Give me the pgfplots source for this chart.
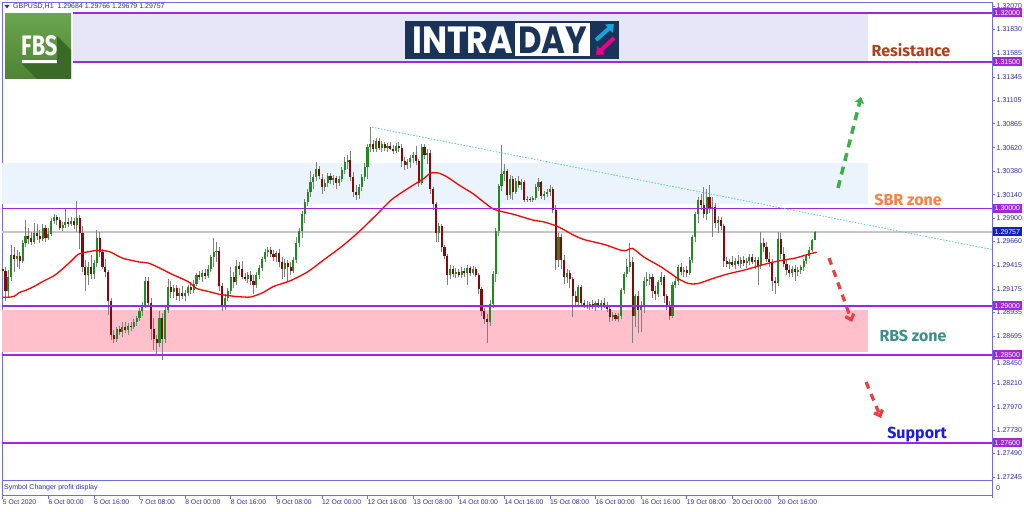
\documentclass[border=0pt]{standalone}
\usepackage{pgfplots}
\pgfplotsset{compat=1.18}
\usepackage{pgfplotstable}
\usepackage{fontspec}
\setmainfont{Liberation Sans}
\newfontfamily\zonefont{Fira Sans}
\newfontfamily\bannerfont{Poppins}
\usetikzlibrary{arrows.meta}

\definecolor{framecol}{HTML}{6E6EDC}
\definecolor{labcol}{HTML}{2C2CA8}
\definecolor{lvl}{HTML}{A028DC}
\definecolor{bidcol}{HTML}{1420BE}
\definecolor{bull}{HTML}{1E8C1E}
\definecolor{bear}{HTML}{820A0A}
\definecolor{wick}{HTML}{808080}
\definecolor{lavzone}{HTML}{E6E6F8}
\definecolor{sbrzone}{HTML}{EBF4FD}
\definecolor{rbszone}{HTML}{FFC0CB}
\definecolor{trend}{HTML}{5CC6C6}
\definecolor{resist}{HTML}{B0401C}
\definecolor{sbrtxt}{HTML}{FF7F3F}
\definecolor{rbstxt}{HTML}{3A8F8A}
\definecolor{suptxt}{HTML}{1A1AEE}
\definecolor{arrgreen}{HTML}{3FAE49}
\definecolor{arrred}{HTML}{F03C3C}
\definecolor{fbsgreen}{HTML}{5B9B3C}
\definecolor{fbsdark}{HTML}{3A6B26}
\definecolor{navy}{HTML}{1A3459}

% GBPUSD H1 candles, i = bar number from 5 Oct 08:00
\pgfplotstableread{
i o h l c
0 1.2938 1.2945 1.2932 1.2936
1 1.2936 1.2940 1.2905 1.2915
2 1.2915 1.2937 1.2908 1.2930
3 1.2930 1.2962 1.2926 1.2952
4 1.2952 1.2960 1.2935 1.2948
5 1.2948 1.2957 1.2940 1.2951
6 1.2951 1.2955 1.2938 1.2946
7 1.2946 1.2968 1.2944 1.2964
8 1.2964 1.2988 1.2960 1.2972
9 1.2972 1.2980 1.2963 1.2969
10 1.2970 1.2976 1.2962 1.2966
11 1.2966 1.2985 1.2963 1.2975
12 1.2975 1.2984 1.2968 1.2972
13 1.2972 1.2978 1.2964 1.2969
14 1.2969 1.2984 1.2967 1.2980
15 1.2980 1.2983 1.2966 1.2970
16 1.2970 1.2980 1.2968 1.2974
17 1.2974 1.2990 1.2972 1.2987
18 1.2987 1.2994 1.2984 1.2991
19 1.2991 1.2993 1.2983 1.2988
20 1.2988 1.2991 1.2978 1.2980
21 1.2980 1.2986 1.2977 1.2983
22 1.2983 1.2999 1.2980 1.2986
23 1.2986 1.2990 1.2981 1.2984
24 1.2984 1.2991 1.2982 1.2987
25 1.2987 1.2990 1.2979 1.2983
26 1.2983 1.3007 1.2976 1.2990
27 1.2990 1.2993 1.2958 1.2975
28 1.2975 1.2982 1.2935 1.2940
29 1.2940 1.2947 1.2915 1.2932
30 1.2932 1.2945 1.2922 1.2940
31 1.2940 1.2952 1.2928 1.2933
32 1.2933 1.2947 1.2928 1.2944
33 1.2944 1.2978 1.2940 1.2970
34 1.2970 1.2976 1.2950 1.2955
35 1.2955 1.2958 1.2938 1.2940
36 1.2940 1.2948 1.2930 1.2935
37 1.2935 1.2937 1.2891 1.2905
38 1.2905 1.2908 1.2865 1.2870
39 1.2870 1.2875 1.2862 1.2866
40 1.2866 1.2878 1.2863 1.2876
41 1.2876 1.2880 1.2870 1.2873
42 1.2873 1.2884 1.2868 1.2878
43 1.2878 1.2884 1.2872 1.2875
44 1.2875 1.2883 1.2870 1.2880
45 1.2880 1.2884 1.2874 1.2878
46 1.2878 1.2887 1.2876 1.2884
47 1.2884 1.2890 1.2880 1.2888
48 1.2888 1.2898 1.2885 1.2895
49 1.2895 1.2904 1.2890 1.2901
50 1.2901 1.2930 1.2898 1.2926
51 1.2926 1.2930 1.2900 1.2903
52 1.2903 1.2908 1.2865 1.2876
53 1.2876 1.2888 1.2855 1.2866
54 1.2866 1.2870 1.2850 1.2862
55 1.2862 1.2895 1.2858 1.2888
56 1.2888 1.2893 1.2845 1.2866
57 1.2866 1.2900 1.2862 1.2896
58 1.2896 1.2928 1.2893 1.2919
59 1.2919 1.2926 1.2908 1.2914
60 1.2914 1.2922 1.2908 1.2918
61 1.2918 1.2921 1.2906 1.2910
62 1.2910 1.2918 1.2905 1.2913
63 1.2913 1.2920 1.2907 1.2910
64 1.2910 1.2916 1.2905 1.2913
65 1.2913 1.2922 1.2910 1.2919
66 1.2919 1.2925 1.2912 1.2916
67 1.2916 1.2927 1.2913 1.2923
68 1.2923 1.2934 1.2920 1.2932
69 1.2932 1.2936 1.2927 1.2930
70 1.2930 1.2937 1.2925 1.2934
71 1.2934 1.2938 1.2928 1.2931
72 1.2931 1.2942 1.2929 1.2938
73 1.2938 1.2952 1.2935 1.2950
74 1.2950 1.2970 1.2940 1.2955
75 1.2955 1.2965 1.2945 1.2956
76 1.2956 1.2960 1.2915 1.2920
77 1.2920 1.2924 1.2895 1.2899
78 1.2899 1.2912 1.2896 1.2908
79 1.2908 1.2918 1.2905 1.2915
80 1.2915 1.2940 1.2912 1.2930
81 1.2930 1.2935 1.2918 1.2925
82 1.2925 1.2947 1.2922 1.2941
83 1.2941 1.2945 1.2932 1.2938
84 1.2938 1.2946 1.2928 1.2930
85 1.2930 1.2934 1.2926 1.2928
86 1.2928 1.2935 1.2924 1.2932
87 1.2932 1.2936 1.2922 1.2926
88 1.2926 1.2932 1.2912 1.2922
89 1.2922 1.2935 1.2918 1.2932
90 1.2932 1.2942 1.2928 1.2939
91 1.2939 1.2950 1.2936 1.2948
92 1.2948 1.2958 1.2945 1.2955
93 1.2955 1.2960 1.2950 1.2957
94 1.2957 1.2960 1.2950 1.2953
95 1.2953 1.2957 1.2946 1.2950
96 1.2950 1.2956 1.2945 1.2954
97 1.2954 1.2958 1.2940 1.2945
98 1.2945 1.2950 1.2928 1.2938
99 1.2938 1.2948 1.2930 1.2944
100 1.2944 1.2947 1.2925 1.2940
101 1.2940 1.2945 1.2932 1.2936
102 1.2936 1.2950 1.2934 1.2947
103 1.2947 1.2971 1.2944 1.2964
104 1.2964 1.2980 1.2960 1.2977
105 1.2977 1.2997 1.2970 1.2994
106 1.2994 1.3010 1.2985 1.3006
107 1.3006 1.3020 1.3002 1.3017
108 1.3017 1.3038 1.3012 1.3027
109 1.3027 1.3035 1.3020 1.3032
110 1.3032 1.3047 1.3028 1.3040
111 1.3040 1.3043 1.3030 1.3033
112 1.3030 1.3035 1.3015 1.3022
113 1.3022 1.3030 1.3018 1.3026
114 1.3026 1.3036 1.3022 1.3033
115 1.3033 1.3036 1.3025 1.3029
116 1.3029 1.3034 1.3024 1.3031
117 1.3031 1.3033 1.3020 1.3026
118 1.3026 1.3033 1.3023 1.3030
119 1.3030 1.3042 1.3027 1.3039
120 1.3039 1.3052 1.3035 1.3047
121 1.3047 1.3055 1.3040 1.3049
122 1.3049 1.3059 1.3028 1.3032
123 1.3032 1.3037 1.3012 1.3017
124 1.3017 1.3024 1.3008 1.3014
125 1.3014 1.3025 1.3010 1.3022
126 1.3022 1.3035 1.3018 1.3032
127 1.3032 1.3046 1.3028 1.3042
128 1.3042 1.3066 1.3030 1.3063
129 1.3063 1.3083 1.3058 1.3066
130 1.3066 1.3070 1.3058 1.3061
131 1.3061 1.3072 1.3058 1.3069
132 1.3069 1.3072 1.3060 1.3062
133 1.3062 1.3069 1.3058 1.3066
134 1.3066 1.3068 1.3059 1.3062
135 1.3062 1.3067 1.3058 1.3064
136 1.3064 1.3068 1.3060 1.3061
137 1.3061 1.3065 1.3056 1.3059
138 1.3059 1.3067 1.3057 1.3064
139 1.3064 1.3068 1.3058 1.3062
140 1.3062 1.3066 1.3042 1.3048
141 1.3048 1.3052 1.3039 1.3044
142 1.3044 1.3050 1.3040 1.3047
143 1.3047 1.3055 1.3041 1.3051
144 1.3051 1.3058 1.3046 1.3055
145 1.3055 1.3064 1.3044 1.3048
146 1.3048 1.3050 1.3022 1.3026
147 1.3026 1.3066 1.3024 1.3063
148 1.3063 1.3066 1.3050 1.3055
149 1.3055 1.3061 1.3045 1.3057
150 1.3057 1.3060 1.3015 1.3020
151 1.3020 1.3022 1.2998 1.3004
152 1.3004 1.3006 1.2966 1.2975
153 1.2975 1.2985 1.2966 1.2982
154 1.2982 1.2984 1.2955 1.2960
155 1.2960 1.2962 1.2948 1.2951
156 1.2951 1.2953 1.2922 1.2932
157 1.2932 1.2942 1.2928 1.2938
158 1.2938 1.2941 1.2930 1.2933
159 1.2933 1.2939 1.2929 1.2935
160 1.2935 1.2938 1.2930 1.2932
161 1.2932 1.2940 1.2929 1.2936
162 1.2936 1.2939 1.2930 1.2934
163 1.2934 1.2942 1.2922 1.2939
164 1.2939 1.2941 1.2931 1.2934
165 1.2934 1.2941 1.2932 1.2938
166 1.2938 1.2940 1.2930 1.2932
167 1.2932 1.2934 1.2912 1.2917
168 1.2917 1.2919 1.2890 1.2895
169 1.2895 1.2898 1.2882 1.2887
170 1.2887 1.2892 1.2862 1.2884
171 1.2884 1.2906 1.2880 1.2902
172 1.2902 1.2936 1.2898 1.2933
173 1.2933 1.2980 1.2925 1.2977
174 1.2977 1.3025 1.2972 1.3023
175 1.3023 1.3065 1.3018 1.3035
176 1.3035 1.3045 1.3028 1.3038
177 1.3038 1.3040 1.3008 1.3014
178 1.3014 1.3034 1.3010 1.3030
179 1.3030 1.3033 1.3008 1.3017
180 1.3017 1.3031 1.3015 1.3028
181 1.3028 1.3033 1.3021 1.3024
182 1.3024 1.3030 1.3019 1.3027
183 1.3027 1.3029 1.3006 1.3009
184 1.3009 1.3013 1.3006 1.3010
185 1.3010 1.3012 1.3006 1.3008
186 1.3008 1.3013 1.3006 1.3011
187 1.3011 1.3025 1.3008 1.3022
188 1.3022 1.3031 1.3018 1.3027
189 1.3027 1.3028 1.3010 1.3013
190 1.3013 1.3018 1.3009 1.3015
191 1.3015 1.3020 1.3012 1.3017
192 1.3017 1.3024 1.3013 1.3020
193 1.3020 1.3022 1.2995 1.2998
194 1.2998 1.3003 1.2937 1.2947
195 1.2947 1.2975 1.2940 1.2971
196 1.2971 1.2974 1.2938 1.2947
197 1.2947 1.2952 1.2923 1.2930
198 1.2930 1.2938 1.2924 1.2934
199 1.2934 1.2937 1.2918 1.2928
200 1.2928 1.2930 1.2889 1.2910
201 1.2910 1.2915 1.2900 1.2904
202 1.2904 1.2922 1.2900 1.2919
203 1.2919 1.2921 1.2900 1.2903
204 1.2903 1.2906 1.2898 1.2901
205 1.2901 1.2905 1.2897 1.2899
206 1.2899 1.2904 1.2896 1.2902
207 1.2902 1.2906 1.2897 1.2899
208 1.2899 1.2905 1.2895 1.2903
209 1.2903 1.2907 1.2898 1.2900
210 1.2900 1.2906 1.2896 1.2903
211 1.2903 1.2908 1.2898 1.2901
212 1.2901 1.2904 1.2894 1.2897
213 1.2897 1.2899 1.2884 1.2889
214 1.2889 1.2894 1.2885 1.2891
215 1.2891 1.2893 1.2885 1.2887
216 1.2887 1.2893 1.2884 1.2890
217 1.2890 1.2918 1.2887 1.2916
218 1.2916 1.2935 1.2912 1.2933
219 1.2933 1.2948 1.2930 1.2940
220 1.2940 1.2964 1.2935 1.2945
221 1.2945 1.2950 1.2862 1.2890
222 1.2890 1.2912 1.2878 1.2910
223 1.2910 1.2915 1.2872 1.2896
224 1.2896 1.2905 1.2873 1.2900
225 1.2900 1.2930 1.2893 1.2926
226 1.2926 1.2935 1.2920 1.2928
227 1.2928 1.2933 1.2922 1.2930
228 1.2930 1.2933 1.2908 1.2915
229 1.2915 1.2920 1.2906 1.2912
230 1.2912 1.2927 1.2909 1.2925
231 1.2925 1.2935 1.2922 1.2930
232 1.2930 1.2932 1.2903 1.2910
233 1.2910 1.2912 1.2896 1.2900
234 1.2900 1.2905 1.2886 1.2890
235 1.2890 1.2925 1.2888 1.2922
236 1.2922 1.2930 1.2918 1.2926
237 1.2926 1.2942 1.2922 1.2940
238 1.2940 1.2944 1.2932 1.2935
239 1.2935 1.2940 1.2930 1.2937
240 1.2937 1.2941 1.2930 1.2934
241 1.2934 1.2950 1.2932 1.2947
242 1.2947 1.2973 1.2944 1.2971
243 1.2971 1.2996 1.2966 1.2994
244 1.2994 1.3012 1.2985 1.3008
245 1.3008 1.3015 1.2998 1.3003
246 1.3003 1.3022 1.2990 1.2994
247 1.2994 1.3020 1.2988 1.3012
248 1.3012 1.3024 1.2995 1.3000
249 1.3000 1.3012 1.2971 1.3001
250 1.3001 1.3005 1.2980 1.2985
251 1.2985 1.2992 1.2975 1.2988
252 1.2988 1.2991 1.2978 1.2982
253 1.2982 1.2984 1.2940 1.2946
254 1.2946 1.2950 1.2940 1.2943
255 1.2943 1.2948 1.2938 1.2945
256 1.2945 1.2951 1.2940 1.2942
257 1.2942 1.2949 1.2938 1.2946
258 1.2946 1.2952 1.2941 1.2943
259 1.2943 1.2950 1.2939 1.2947
260 1.2947 1.2951 1.2941 1.2944
261 1.2944 1.2949 1.2939 1.2946
262 1.2946 1.2953 1.2942 1.2950
263 1.2950 1.2953 1.2943 1.2945
264 1.2945 1.2950 1.2938 1.2947
265 1.2947 1.2950 1.2922 1.2941
266 1.2941 1.2976 1.2938 1.2964
267 1.2964 1.2970 1.2955 1.2960
268 1.2960 1.2966 1.2945 1.2948
269 1.2948 1.2955 1.2940 1.2945
270 1.2945 1.2948 1.2915 1.2926
271 1.2926 1.2930 1.2912 1.2924
272 1.2924 1.2976 1.2920 1.2969
273 1.2969 1.2975 1.2948 1.2953
274 1.2953 1.2960 1.2940 1.2943
275 1.2943 1.2947 1.2932 1.2937
276 1.2937 1.2942 1.2930 1.2934
277 1.2934 1.2941 1.2930 1.2938
278 1.2938 1.2942 1.2926 1.2935
279 1.2935 1.2940 1.2931 1.2937
280 1.2937 1.2942 1.2933 1.2940
281 1.2940 1.2948 1.2936 1.2946
282 1.2946 1.2953 1.2943 1.2951
283 1.2951 1.2960 1.2948 1.2957
284 1.2957 1.2969 1.2955 1.2968
285 1.2968 1.2977 1.2968 1.2976
}\ohlc

\begin{document}
\begin{tikzpicture}
\useasboundingbox (0,0) rectangle (1024pt,511pt);
\begin{axis}[
  at={(2pt,31pt)}, anchor=south west, scale only axis,
  width=990pt, height=478pt,
  xmin=-0.2456, xmax=347.12, ymin=1.272191, ymax=1.321116,
  clip=false,
  axis line style={draw=framecol, line width=0.8pt},
  xtick=\empty,
  ytick pos=right, yticklabel pos=right,
  tick align=outside, major tick length=3pt,
  tick style={draw=framecol, line width=0.6pt},
  ytick={1.32070,1.31830,1.31585,1.31345,1.31105,1.30865,1.30620,1.30380,1.30140,1.29900,1.29660,1.29415,1.29175,1.28935,1.28695,1.28210,1.27970,1.27730,1.27490,1.27245},
  yticklabels={1.32070,1.31830,1.31585,1.31345,1.31105,1.30865,1.30620,1.30380,1.30140,1.29900,1.29660,1.29415,1.29175,1.28935,1.28695,1.28210,1.27970,1.27730,1.27490,1.27245},
  extra y ticks={1.28450},
  extra y tick labels={1.28450},
  extra y tick style={yticklabel style={yshift=-3.5pt}},
  yticklabel style={font=\fontsize{7}{8}\selectfont, text=labcol, inner sep=1.5pt},
]
% zones
\addplot[fill=lavzone, draw=none] coordinates {(24.7,1.3150) (303.6,1.3150) (303.6,1.3200) (24.7,1.3200)} -- cycle;
\addplot[fill=sbrzone, draw=none] coordinates {(-0.2,1.30042) (303.6,1.30042) (303.6,1.30460) (-0.2,1.30460)} -- cycle;
\addplot[fill=rbszone, draw=none] coordinates {(-0.2,1.28532) (303.6,1.28532) (303.6,1.28959) (-0.2,1.28959)} -- cycle;
% bid line
\addplot[draw=gray!45, line width=1.2pt] coordinates {(-0.2456,1.29757) (347.12,1.29757)};
% wicks
\addplot[draw=none, mark=none, error bars/.cd, y dir=plus, y explicit, error mark=none,
  error bar style={draw=wick, line width=0.8pt, solid}]
  table[x=i, y=l, y error plus expr={\thisrow{h}-\thisrow{l}}] {\ohlc};
% bull bodies
\addplot[draw=none, mark=none, error bars/.cd, y dir=plus, y explicit, error mark=none,
  error bar style={draw=bull, line width=2.1pt, line cap=butt, solid}]
  table[x=i, y=o, y error plus expr={max(\thisrow{c}-\thisrow{o},0)}] {\ohlc};
% bear bodies
\addplot[draw=none, mark=none, error bars/.cd, y dir=plus, y explicit, error mark=none,
  error bar style={draw=bear, line width=2.1pt, line cap=butt, solid}]
  table[x=i, y=c, y error plus expr={max(\thisrow{o}-\thisrow{c},0)}] {\ohlc};
% moving average
\addplot[red, line width=1.3pt, smooth, tension=0.4] coordinates {
(0,1.2909) (2,1.2909) (4,1.2910) (6,1.2914) (8,1.2916) (11,1.2920) (14,1.2925)
(18,1.2931) (21,1.2938) (24,1.2946) (26.5,1.2953) (29,1.2955) (33,1.2957) (35,1.2957)
(38,1.2955) (42,1.2949) (48,1.2945) (51,1.2944) (55,1.2939) (59,1.2933) (65,1.2925)
(68,1.2918) (72,1.2915) (76,1.2912) (81,1.2910) (86,1.2909) (88,1.2910) (91.5,1.2914)
(95,1.2920) (101,1.2926) (107,1.2935) (113,1.2948) (119,1.2961) (125,1.2976)
(131,1.2993) (136.5,1.3009) (142,1.3020) (148,1.3031) (150,1.3036) (153,1.3036)
(156,1.3032) (160,1.3024) (165,1.3015) (168.5,1.3007) (171.7,1.3000) (174.6,1.2997)
(179,1.2994) (186,1.2988) (190,1.2986) (195,1.2981) (200,1.2973) (204,1.2968)
(211,1.2963) (217,1.2957) (219,1.2957) (221,1.2959) (225,1.2950) (231,1.2940)
(237,1.2928) (240.6,1.2923) (244,1.2923) (249,1.2928) (254.6,1.2933) (260.5,1.2937)
(266.4,1.2942) (272,1.2946) (278,1.2949) (282.7,1.2953) (285.6,1.2955)};
% levels
\addplot[lvl, line width=1.6pt] coordinates {(24.7,1.3200) (347.12,1.3200)};
\addplot[lvl, line width=1.6pt] coordinates {(24.7,1.3150) (347.12,1.3150)};
\addplot[lvl, line width=1.6pt] coordinates {(-0.2456,1.3000) (347.12,1.3000)};
\addplot[lvl, line width=1.6pt] coordinates {(-0.2456,1.2900) (347.12,1.2900)};
\addplot[lvl, line width=1.6pt] coordinates {(-0.2456,1.2850) (347.12,1.2850)};
\addplot[lvl, line width=1.6pt] coordinates {(-0.2456,1.2760) (347.12,1.2760)};
% trend line
\addplot[trend, line width=0.8pt, dash pattern=on 1.5pt off 1.5pt] coordinates {(129.6,1.3083) (347.12,1.29578)};
\end{axis}

\begin{scope}[x=1pt, y=-1pt, shift={(0pt,511pt)}]
% sub window
\draw[framecol, line width=0.8pt] (2,480) rectangle (992,495);
\draw[framecol, line width=0.8pt] (992,495) -- (992,498);
\node[anchor=west, inner sep=0, font=\fontsize{7}{8}\selectfont, text=labcol] at (4,487.5) {Symbol Changer profit display};
\node[anchor=west, inner sep=0, font=\fontsize{7}{8}\selectfont, text=labcol] at (996,488) {0};
% time axis
\foreach \k/\lab in {0/5 Oct 2020, 16/6 Oct 00:00, 32/6 Oct 16:00, 48/7 Oct 08:00, 64/8 Oct 00:00, 80/8 Oct 16:00, 96/9 Oct 08:00, 112/12 Oct 00:00, 128/12 Oct 16:00, 144/13 Oct 08:00, 160/14 Oct 00:00, 176/14 Oct 16:00, 192/15 Oct 08:00, 208/16 Oct 00:00, 224/16 Oct 16:00, 240/19 Oct 08:00, 256/20 Oct 00:00, 272/20 Oct 16:00} {
  \draw[framecol, line width=0.6pt] ({2.7+2.85*\k},495) -- ++(0,4);
  \node[anchor=north west, inner sep=0, font=\fontsize{6.8}{8}\selectfont, text=labcol] at ({2.7+2.85*\k},499.5) {\lab};
}
% title
\fill[labcol] (4.5,5) -- (9.5,5) -- (7,8.5) -- cycle;
\node[anchor=west, inner sep=0, font=\fontsize{7}{8}\selectfont, text=labcol] at (13,7) {GBPUSD,H1\ \ 1.29684 1.29766 1.29679 1.29757};
% price boxes
\foreach \yy/\lab/\col in {12.9/1.32000/lvl, 61.75/1.31500/lvl, 208.3/1.30000/lvl, 306/1.29000/lvl, 354.85/1.28500/lvl, 442.8/1.27600/lvl, 232/1.29757/bidcol} {
  \node[fill=\col, text=white, anchor=west, minimum height=9pt, inner xsep=1.5pt, inner ysep=0pt, font=\fontsize{7}{8}\selectfont] at (993,\yy) {\lab};
}
% FBS logo
\shade[top color=fbsgreen!90!white, bottom color=fbsgreen!85!black] (5,14) rectangle (71,79);
\fill[fbsdark] (22,64) -- (57,64) -- (57,36) -- (71,50) -- (71,79) -- (37,79) -- cycle;
\node[anchor=south west, inner sep=0, text=white] at (21,56) {\resizebox{36pt}{20pt}{\zonefont\bfseries FBS}};
\fill[white] (22,60.5) rectangle (57,63.5);
% INTRADAY banner
\fill[navy] (405,21) rectangle (619,59);
\node[anchor=south west, inner sep=0, text=white] at (412,53.3) {\resizebox{101pt}{26.6pt}{\bannerfont\bfseries INTRA}};
\fill[white] (515,23.5) rectangle (590,56.5);
\node[anchor=south west, inner sep=0, text=navy] at (518,53.3) {\resizebox{69pt}{26.6pt}{\bannerfont\bfseries DAY}};
\draw[cyan!80!teal, line width=4pt, -{Triangle[length=7pt,width=11pt]}] (596,40) -- (614,24);
\draw[magenta, line width=4pt, -{Triangle[length=7pt,width=11pt]}] (614,38) -- (596,55);
% zone labels
\node[text=resist, font=\zonefont\bfseries\fontsize{16}{18}\selectfont] at (911,50) {Resistance};
\node[text=sbrtxt, font=\zonefont\bfseries\fontsize{16}{18}\selectfont] at (908,200) {SBR zone};
\node[text=rbstxt, font=\zonefont\bfseries\fontsize{16}{18}\selectfont] at (913,336) {RBS zone};
\node[text=suptxt, font=\zonefont\bfseries\fontsize{16}{18}\selectfont] at (917,435) {Support};
% arrows
\draw[arrgreen, line width=3.5pt, dash pattern=on 8pt off 6pt, -{Triangle[length=6pt,width=9pt]}] (838,188) -- (861,97);
\draw[arrred, line width=3.2pt, dash pattern=on 7pt off 6pt, -{Straight Barb[length=5pt,width=9pt]}] (829,258) -- (852,322);
\draw[arrred, line width=3.2pt, dash pattern=on 7pt off 6pt, -{Straight Barb[length=5pt,width=9pt]}] (866,382) -- (881,418);
\end{scope}
\end{tikzpicture}
\end{document}
